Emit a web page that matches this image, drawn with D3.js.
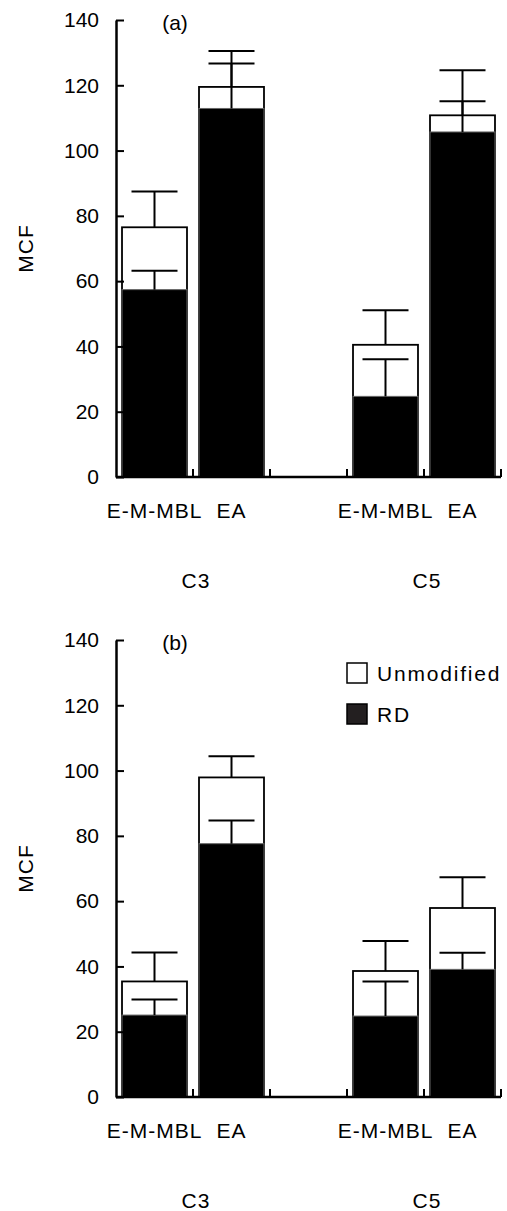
<!DOCTYPE html>
<html>
<head>
<meta charset="utf-8">
<script src="https://cdn.jsdelivr.net/npm/d3@7"></script>
<style>
  body { margin: 0; background: #fff; }
  text { font-family: "Liberation Sans", Arial, sans-serif; fill: #000; }
</style>
</head>
<body>
<svg></svg>
<script>
var width = 507;
var height = 1211;

// data
var bars = ["C3 E-M-MBL", "C3 EA", "C5 E-M-MBL", "C5 EA"];
var slots = ["C3 E-M-MBL", "C3 EA", "gap", "C5 E-M-MBL", "C5 EA"];
var barLabels = ["E-M-MBL", "EA", "E-M-MBL", "EA"];
var groups = ["C3", "C5"];
var yTicks = [0, 20, 40, 60, 80, 100, 120, 140];
var seriesNames = ["Unmodified", "RD"];

var unmodA = [76.5, 119.5, 40.5, 110.8];
var unmodErrA = [11.0, 11.0, 10.6, 13.8];
var rdA = [57.4, 112.9, 24.7, 105.7];
var rdErrA = [5.8, 13.8, 11.4, 9.4];

var unmodB = [35.4, 97.9, 38.6, 57.9];
var unmodErrB = [8.9, 6.5, 9.2, 9.4];
var rdB = [25.1, 77.6, 24.8, 39.1];
var rdErrB = [4.8, 7.1, 10.6, 5.1];

var svg = d3.select("svg");
svg.attr('width', width).attr('height', height);

var xScale = d3.scaleBand()
               .domain(slots)
               .range([116, 501])
               .paddingInner(0.156)
               .paddingOuter(0.078);

function drawPanel(offset, tag, unmod, unmodErr, rd, rdErr, legend) {
  var g = svg.append('g').attr('transform', 'translate(0,' + offset + ')');

  var yScale = d3.scaleLinear()
                 .domain([0, 140])
                 .range([477, 20]);

  var step = xScale.step();
  var half = step * xScale.paddingInner() / 2;

  // unmodified bars (white)
  g.selectAll('rect.unmod')
    .data(bars)
    .enter()
    .append('rect')
    .attr('class', 'unmod')
    .attr('x', function(d) { return xScale(d); })
    .attr('width', xScale.bandwidth())
    .attr('y', function(d, i) { return yScale(unmod[i]); })
    .attr('height', function(d, i) { return yScale(0) - yScale(unmod[i]); })
    .attr('fill', '#fff')
    .attr('stroke', '#000')
    .attr('stroke-width', 1.8);

  // RD bars (black)
  g.selectAll('rect.rd')
    .data(bars)
    .enter()
    .append('rect')
    .attr('class', 'rd')
    .attr('x', function(d) { return xScale(d); })
    .attr('width', xScale.bandwidth())
    .attr('y', function(d, i) { return yScale(rd[i]); })
    .attr('height', function(d, i) { return yScale(0) - yScale(rd[i]); })
    .attr('fill', '#000')
    .attr('stroke', '#666')
    .attr('stroke-width', 1);

  // error bars
  function errBars(vals, errs, cls) {
    var eg = g.selectAll('g.' + cls)
      .data(bars)
      .enter()
      .append('g')
      .attr('class', cls);
    eg.append('line')
      .attr('x1', function(d) { return xScale(d) + xScale.bandwidth() / 2; })
      .attr('x2', function(d) { return xScale(d) + xScale.bandwidth() / 2; })
      .attr('y1', function(d, i) { return yScale(vals[i]); })
      .attr('y2', function(d, i) { return yScale(vals[i] + errs[i]); })
      .attr('stroke', '#000')
      .attr('stroke-width', 2);
    eg.append('line')
      .attr('x1', function(d) { return xScale(d) + xScale.bandwidth() / 2 - 23; })
      .attr('x2', function(d) { return xScale(d) + xScale.bandwidth() / 2 + 23; })
      .attr('y1', function(d, i) { return yScale(vals[i] + errs[i]); })
      .attr('y2', function(d, i) { return yScale(vals[i] + errs[i]); })
      .attr('stroke', '#000')
      .attr('stroke-width', 2);
  }
  errBars(unmod, unmodErr, 'eu');
  errBars(rd, rdErr, 'er');

  // y axis
  var yAxis = d3.axisLeft(yScale)
                .tickValues(yTicks)
                .tickSizeInner(-8)
                .tickSizeOuter(0)
                .tickPadding(17);
  var ya = g.append('g')
    .attr('transform', 'translate(116,0)')
    .call(yAxis);
  ya.select('.domain').attr('stroke-width', 2.5);
  ya.selectAll('.tick line').attr('stroke-width', 2);
  ya.selectAll('.tick text')
    .attr('font-size', 21)
    .style('font-family', '"Liberation Sans", Arial, sans-serif');

  // x axis line with inward ticks at slot borders
  g.append('line')
    .attr('x1', 116).attr('x2', xScale.range()[1])
    .attr('y1', yScale(0)).attr('y2', yScale(0))
    .attr('stroke', '#000').attr('stroke-width', 2.5);
  g.selectAll('line.xt')
    .data(slots)
    .enter()
    .append('line')
    .attr('class', 'xt')
    .attr('x1', function(d) { return xScale(d) + xScale.bandwidth() + half; })
    .attr('x2', function(d) { return xScale(d) + xScale.bandwidth() + half; })
    .attr('y1', yScale(0))
    .attr('y2', yScale(0) - 8)
    .attr('stroke', '#000').attr('stroke-width', 2);

  // bar labels
  g.selectAll('text.bl')
    .data(bars)
    .enter()
    .append('text')
    .attr('class', 'bl')
    .text(function(d, i) { return barLabels[i]; })
    .attr('x', function(d) { return xScale(d) + xScale.bandwidth() / 2; })
    .attr('y', 518)
    .attr('text-anchor', 'middle')
    .attr('font-size', 21)
    .attr('letter-spacing', 1);

  // group labels
  g.selectAll('text.gl')
    .data(groups)
    .enter()
    .append('text')
    .attr('class', 'gl')
    .text(function(d) { return d; })
    .attr('x', function(d, i) {
      var a = xScale(bars[i * 2]), b = xScale(bars[i * 2 + 1]);
      return (a + b) / 2 + xScale.bandwidth() / 2 + 3;
    })
    .attr('y', 588)
    .attr('text-anchor', 'middle')
    .attr('font-size', 21)
    .attr('letter-spacing', 1);

  // y title
  g.append('text')
    .text('MCF')
    .attr('transform', 'translate(33,' + ((yScale(0) + yScale(140)) / 2) + ') rotate(-90)')
    .attr('text-anchor', 'middle')
    .attr('font-size', 21)
    .attr('letter-spacing', 1);

  // panel tag
  g.append('text')
    .text(tag)
    .attr('x', 175)
    .attr('y', 30)
    .attr('text-anchor', 'middle')
    .attr('font-size', 21);

  if (legend) {
    var lg = g.selectAll('g.lg')
      .data(seriesNames)
      .enter()
      .append('g')
      .attr('class', 'lg')
      .attr('transform', function(d, i) { return 'translate(347,' + (43 + i * 41) + ')'; });
    lg.append('rect')
      .attr('width', 20).attr('height', 20)
      .attr('fill', function(d, i) { return i === 0 ? '#fff' : '#231f20'; })
      .attr('stroke', '#000').attr('stroke-width', 1.5);
    lg.append('text')
      .text(function(d) { return d; })
      .attr('x', 30)
      .attr('y', 18)
      .attr('font-size', 21)
      .attr('letter-spacing', 1.8);
  }
}

drawPanel(0, '(a)', unmodA, unmodErrA, rdA, rdErrA, false);
drawPanel(620, '(b)', unmodB, unmodErrB, rdB, rdErrB, true);
</script>
</body>
</html>
